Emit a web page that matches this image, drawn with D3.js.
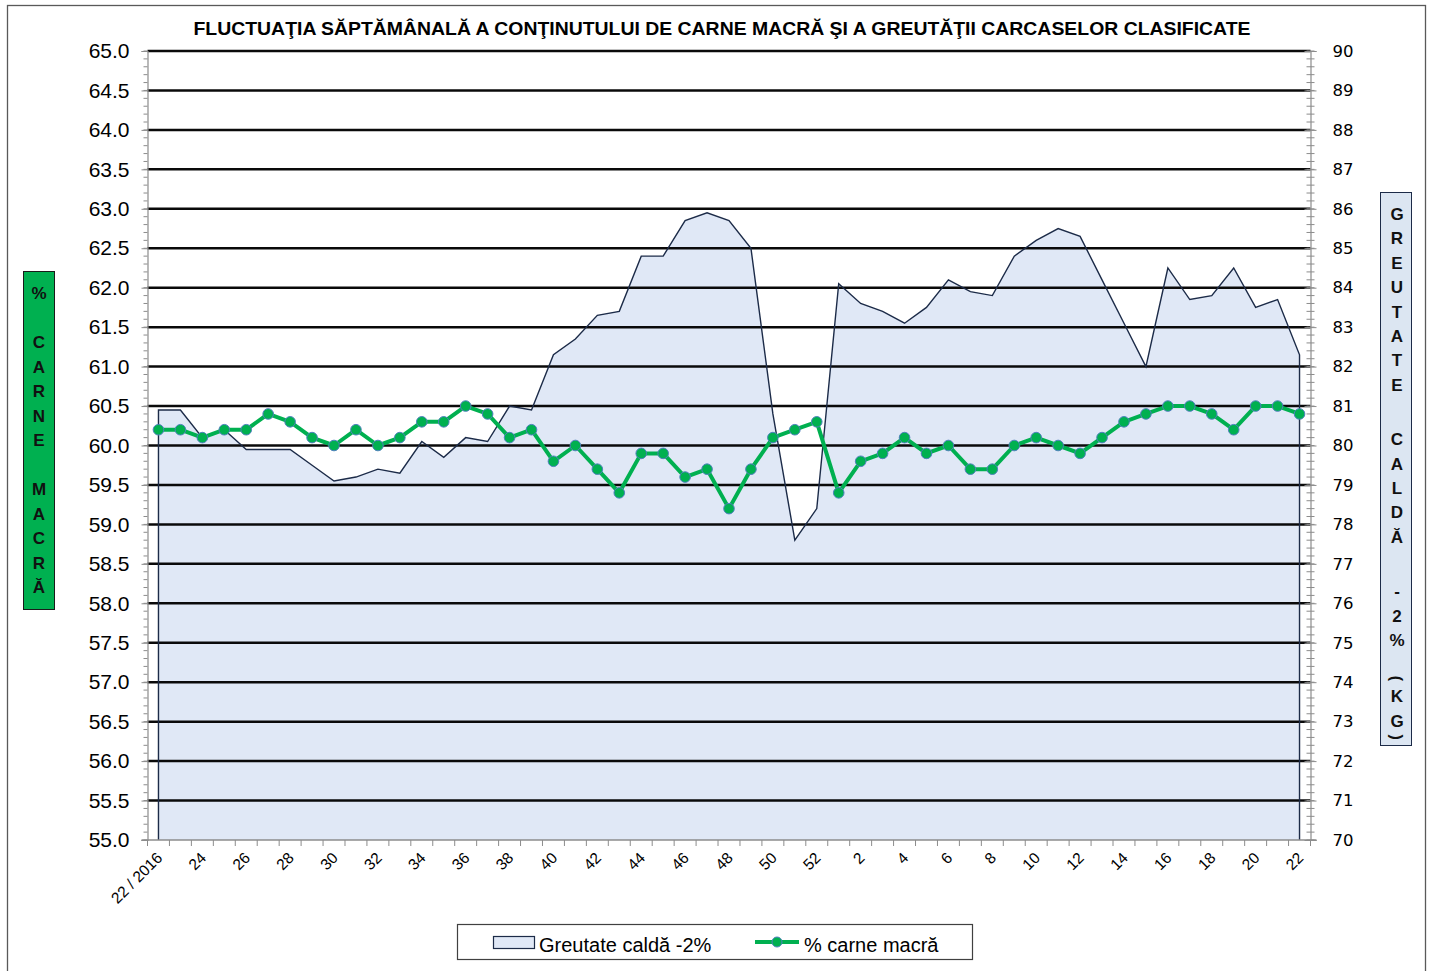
<!DOCTYPE html>
<html>
<head>
<meta charset="utf-8">
<script src="https://cdn.jsdelivr.net/npm/d3@7"></script>
<style>
body { margin: 0; background: #fff; }
svg { display: block; }
</style>
</head>
<body>
<div class="container"></div>
<script>
// week labels: 22/2016 .. 52, then 1 .. 22 (2017)
var weeks = ["22 / 2016","23","24","25","26","27","28","29","30","31","32","33","34","35","36","37",
	"38","39","40","41","42","43","44","45","46","47","48","49","50","51","52",
	"1","2","3","4","5","6","7","8","9","10","11","12","13","14","15","16","17","18","19","20","21","22"];

// % carne macra (left axis)
var carneMacra = [60.2,60.2,60.1,60.2,60.2,60.4,60.3,60.1,60.0,60.2,60.0,60.1,60.3,60.3,60.5,60.4,
	60.1,60.2,59.8,60.0,59.7,59.4,59.9,59.9,59.6,59.7,59.2,59.7,60.1,60.2,60.3,
	59.4,59.8,59.9,60.1,59.9,60.0,59.7,59.7,60.0,60.1,60.0,59.9,60.1,60.3,60.4,60.5,60.5,60.4,60.2,60.5,60.5,60.4];

// greutate calda -2% (kg, right axis)
var greutate = [80.9,80.9,80.2,80.4,79.9,79.9,79.9,79.5,79.1,79.2,79.4,79.3,80.1,79.7,80.2,80.1,
	81.0,80.9,82.3,82.7,83.3,83.4,84.8,84.8,85.7,85.9,85.7,85.0,80.8,77.6,78.4,
	84.1,83.6,83.4,83.1,83.5,84.2,83.9,83.8,84.8,85.2,85.5,85.3,84.2,83.1,82.0,84.5,83.7,83.8,84.5,83.5,83.7,82.3];

var leftTicks = d3.range(55, 65.001, 0.5);
var rightTicks = d3.range(70, 90.001, 1);

var titleText = "FLUCTUAŢIA SĂPTĂMÂNALĂ  A CONŢINUTULUI DE CARNE MACRĂ ŞI A GREUTĂŢII CARCASELOR CLASIFICATE";
var leftTitle = "% CARNE MACRĂ";
var rightTitle = "GREUTATE CALDĂ -2% (KG)";
var legendArea = "Greutate caldă -2%";
var legendLine = "% carne macră";

const WIDTH = 1431;
const HEIGHT = 971;
const LEFT = 147.5, RIGHT = 1310.5, TOP = 51, BOTTOM = 840;
const GREEN = "#00B050";

var svg = d3.select('.container').append('svg')
	.attr('width', WIDTH)
	.attr('height', HEIGHT);

// outer chart border
svg.append('rect')
	.attr('x', 7.5).attr('y', 5.5)
	.attr('width', 1418).attr('height', 990)
	.attr('fill', 'none').attr('stroke', '#595959').attr('stroke-width', 1.3);

var xScale = d3.scaleBand()
	.domain(d3.range(weeks.length))
	.range([LEFT, RIGHT])
	.paddingInner(0).paddingOuter(0);
var bw = xScale.bandwidth();
var cx = function(i){ return xScale(i) + bw / 2; };

var yLeft = d3.scaleLinear().domain([55, 65]).range([BOTTOM, TOP]);
var yRight = d3.scaleLinear().domain([70, 90]).range([BOTTOM, TOP]);

// area (right axis)
var area = d3.area()
	.x(function(d, i){ return cx(i); })
	.y0(yRight(70))
	.y1(function(d){ return yRight(d); });

svg.append('path')
	.attr('d', area(greutate))
	.attr('fill', '#E0E8F6');

// gridlines
svg.append('g').selectAll('line').data(leftTicks.filter(function(d){ return d > 55; }))
	.enter().append('line')
	.attr('x1', LEFT).attr('x2', RIGHT)
	.attr('y1', function(d){ return yLeft(d); })
	.attr('y2', function(d){ return yLeft(d); })
	.attr('stroke', '#0a0a0a').attr('stroke-width', 2.5);

// area outline (top + vertical sides)
var outline = [[cx(0), yRight(70)]].concat(greutate.map(function(d, i){ return [cx(i), yRight(d)]; }))
	.concat([[cx(greutate.length - 1), yRight(70)]]);
svg.append('path')
	.attr('d', d3.line()(outline))
	.attr('fill', 'none')
	.attr('stroke', '#1C2B48').attr('stroke-width', 1.4);

// left axis
var leftAxis = d3.axisLeft(yLeft)
	.tickValues(leftTicks)
	.tickFormat(d3.format('.1f'))
	.tickSize(6).tickPadding(12);
var gL = svg.append('g')
	.attr('transform', 'translate(' + LEFT + ',0)')
	.call(leftAxis);
gL.select('.domain').attr('stroke', '#8c8c8c').attr('stroke-width', 1.2);
gL.selectAll('.tick line').attr('stroke', '#8c8c8c');
gL.selectAll('.tick text')
	.attr('font-family', 'Liberation Sans, Arial, sans-serif')
	.attr('font-size', 21).attr('fill', '#000');
gL.selectAll('.minor').data(d3.range(55, 65.001, 0.1))
	.enter().append('line').attr('class', 'minor')
	.attr('x1', -4).attr('x2', 0)
	.attr('y1', function(d){ return yLeft(d); })
	.attr('y2', function(d){ return yLeft(d); })
	.attr('stroke', '#8c8c8c').attr('stroke-width', 1);

// right axis
var rightAxis = d3.axisRight(yRight)
	.tickValues(rightTicks)
	.tickFormat(d3.format('d'))
	.tickSize(6).tickPadding(16);
var gR = svg.append('g')
	.attr('transform', 'translate(' + RIGHT + ',0)')
	.call(rightAxis);
gR.select('.domain').attr('stroke', '#8c8c8c').attr('stroke-width', 1.2);
gR.selectAll('.tick line').attr('stroke', '#8c8c8c').attr('x1', -6);
gR.selectAll('.tick text')
	.attr('font-family', 'DejaVu Sans, Verdana, sans-serif')
	.attr('font-size', 16.5).attr('fill', '#000');
gR.selectAll('.minor').data(d3.range(70, 90.001, 0.2))
	.enter().append('line').attr('class', 'minor')
	.attr('x1', -4).attr('x2', 4)
	.attr('y1', function(d){ return yRight(d); })
	.attr('y2', function(d){ return yRight(d); })
	.attr('stroke', '#8c8c8c').attr('stroke-width', 1);

// x axis
var gX = svg.append('g').attr('transform', 'translate(0,' + BOTTOM + ')');
gX.append('line')
	.attr('x1', LEFT - 6).attr('x2', RIGHT + 6)
	.attr('stroke', '#8c8c8c').attr('stroke-width', 1.5);
gX.selectAll('.xt').data(d3.range(weeks.length + 1))
	.enter().append('line').attr('class', 'xt')
	.attr('x1', function(i){ return LEFT + i * bw; })
	.attr('x2', function(i){ return LEFT + i * bw; })
	.attr('y1', 0).attr('y2', 6)
	.attr('stroke', '#8c8c8c');
gX.selectAll('.xl').data(weeks.map(function(w, i){ return {w: w, i: i}; }).filter(function(d){ return d.i % 2 === 0; }))
	.enter().append('text').attr('class', 'xl')
	.attr('transform', function(d){ return 'translate(' + (cx(d.i) + 1) + ',15) rotate(-45)'; })
	.attr('text-anchor', 'end')
	.attr('dy', '0.35em')
	.attr('font-family', 'Liberation Sans, Arial, sans-serif')
	.attr('font-size', 15.5)
	.text(function(d){ return d.w; });

// green line + markers
var line = d3.line()
	.x(function(d, i){ return cx(i); })
	.y(function(d){ return yLeft(d); });
svg.append('path')
	.attr('d', line(carneMacra))
	.attr('fill', 'none')
	.attr('stroke', GREEN).attr('stroke-width', 4)
	.attr('stroke-linejoin', 'round');
svg.append('g').selectAll('circle').data(carneMacra)
	.enter().append('circle')
	.attr('cx', function(d, i){ return cx(i); })
	.attr('cy', function(d){ return yLeft(d); })
	.attr('r', 5.3)
	.attr('fill', GREEN)
	.attr('stroke', '#4F81BD').attr('stroke-width', 1);

// title
svg.append('text')
	.attr('x', 722).attr('y', 35)
	.attr('text-anchor', 'middle')
	.attr('font-family', 'Liberation Sans, Arial, sans-serif')
	.attr('font-weight', 'bold').attr('font-size', 18)
	.attr('textLength', 1057).attr('lengthAdjust', 'spacingAndGlyphs')
	.text(titleText);

// stacked axis titles (one character per line)
var stacked = function(txt, x, y0, gap, fill){
	var y = y0;
	var g = svg.append('g');
	txt.split('').forEach(function(ch){
		if (ch === ' ') { y += gap; return; }
		if (ch === '(' || ch === ')') {
			var yy = ch === '(' ? y - 16 : y - 8;
			g.append('text')
				.attr('transform', 'translate(' + x + ',' + yy + ') rotate(90)')
				.attr('text-anchor', 'middle').attr('dy', '0.35em')
				.attr('font-family', 'Liberation Sans, Arial, sans-serif')
				.attr('font-weight', 'bold').attr('font-size', 16)
				.attr('fill', fill)
				.text(ch);
			if (ch === '(') y += 2;
			return;
		}
		g.append('text')
			.attr('x', x).attr('y', y)
			.attr('text-anchor', 'middle').attr('dy', '0.35em')
			.attr('font-family', 'Liberation Sans, Arial, sans-serif')
			.attr('font-weight', 'bold').attr('font-size', 17)
			.attr('fill', fill)
			.text(ch);
		y += 24.4;
	});
};

svg.append('rect')
	.attr('x', 23.5).attr('y', 271.5).attr('width', 31).attr('height', 338)
	.attr('fill', GREEN).attr('stroke', '#1a1a1a').attr('stroke-width', 1);
stacked(leftTitle, 39, 293, 25, '#111');

svg.append('rect')
	.attr('x', 1380.5).attr('y', 192.5).attr('width', 31).attr('height', 553)
	.attr('fill', '#DCE6F2').attr('stroke', '#1C2B48').attr('stroke-width', 1);
stacked(rightTitle, 1397, 214, 30, '#111');

// legend
var lg = svg.append('g');
lg.append('rect')
	.attr('x', 457.5).attr('y', 924.5).attr('width', 515).attr('height', 35)
	.attr('fill', '#fff').attr('stroke', '#404040').attr('stroke-width', 1.2);
lg.append('rect')
	.attr('x', 493.5).attr('y', 936.5).attr('width', 41).attr('height', 12)
	.attr('fill', '#E0E8F6').attr('stroke', '#1C2B48').attr('stroke-width', 1.2);
lg.append('text')
	.attr('x', 539).attr('y', 952)
	.attr('font-family', 'Liberation Sans, Arial, sans-serif').attr('font-size', 20)
	.text(legendArea);
lg.append('line')
	.attr('x1', 755).attr('x2', 799).attr('y1', 942).attr('y2', 942)
	.attr('stroke', GREEN).attr('stroke-width', 4);
lg.append('circle')
	.attr('cx', 777).attr('cy', 942).attr('r', 5)
	.attr('fill', GREEN).attr('stroke', '#4F81BD').attr('stroke-width', 1);
lg.append('text')
	.attr('x', 804).attr('y', 952)
	.attr('font-family', 'Liberation Sans, Arial, sans-serif').attr('font-size', 20)
	.text(legendLine);
</script>
</body>
</html>
